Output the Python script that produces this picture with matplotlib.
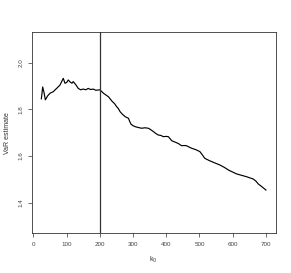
import matplotlib.pyplot as plt

plt.rcParams["font.family"] = ["Liberation Sans", "DejaVu Sans"]

k0 = [24, 28, 32, 36, 43, 50, 60, 70, 80, 90, 95, 100, 105, 110, 116, 120,
      128, 135, 142, 150, 158, 165, 172, 180, 188, 196, 200, 206, 211, 218,
      226, 231, 236, 244, 251, 256, 261, 268, 276, 281, 286, 290, 294, 300,
      306, 316, 326, 336, 346, 351, 360, 368, 376, 384, 391, 399, 406, 411,
      416, 424, 431, 438, 446, 454, 461, 469, 477, 489, 501, 508, 516, 530,
      545, 562, 575, 587, 600, 612, 627, 642, 652, 662, 670, 677, 688, 700]
var_est = [1.845, 1.896, 1.872, 1.841, 1.858, 1.869, 1.876, 1.890, 1.904, 1.933,
           1.912, 1.915, 1.926, 1.918, 1.912, 1.919, 1.905, 1.890, 1.884, 1.887,
           1.884, 1.890, 1.885, 1.887, 1.882, 1.883, 1.884, 1.876, 1.869, 1.862,
           1.854, 1.845, 1.836, 1.825, 1.811, 1.803, 1.790, 1.779, 1.769, 1.765,
           1.762, 1.748, 1.736, 1.730, 1.726, 1.722, 1.719, 1.721, 1.719, 1.715,
           1.706, 1.697, 1.690, 1.688, 1.683, 1.684, 1.683, 1.675, 1.666, 1.661,
           1.657, 1.652, 1.644, 1.645, 1.644, 1.638, 1.633, 1.627, 1.619, 1.606,
           1.590, 1.580, 1.571, 1.561, 1.551, 1.540, 1.531, 1.523, 1.517, 1.511,
           1.506, 1.501, 1.492, 1.480, 1.468, 1.454]
x_ticks = [0, 100, 200, 300, 400, 500, 600, 700]
y_ticks = [1.4, 1.6, 1.8, 2.0]
k_cut = 200

fig = plt.figure(figsize=(2.91, 2.73), dpi=100)
ax = fig.add_axes([0.109, 0.145, 0.838, 0.738])

ax.plot(k0, var_est, color="black", lw=0.85)
ax.axvline(k_cut, color="#333333", lw=0.9)

ax.set_xlim(-5, 729)
ax.set_ylim(1.268, 2.132)
ax.set_xticks(x_ticks)
ax.set_yticks(y_ticks)
ax.set_yticklabels([f"{v:.1f}" for v in y_ticks], rotation=90, va="center")
ax.tick_params(labelsize=4.5, length=3, width=0.5, pad=3, colors="#333333",
               labelcolor="#444444")
for s in ax.spines.values():
    s.set_linewidth(0.6)
    s.set_color("#333333")

ax.set_xlabel("k$_0$", fontsize=5, color="#333333", labelpad=6)
ax.set_ylabel("VaR estimate", fontsize=5, color="#333333", labelpad=5)

fig.savefig("out.png", dpi=100)
